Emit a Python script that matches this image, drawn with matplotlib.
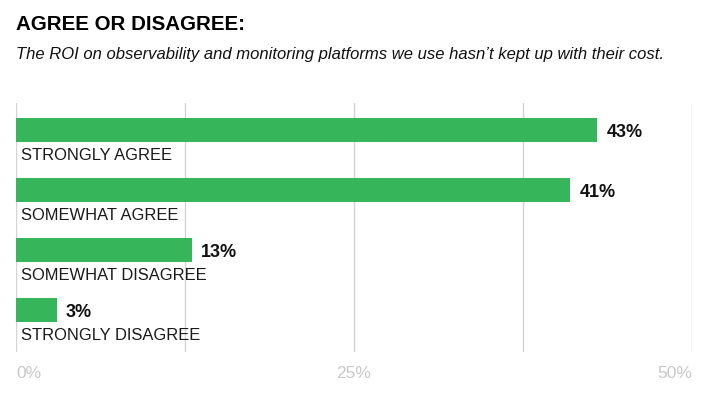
import numpy as np
import matplotlib as mpl
mpl.use("Agg")
import matplotlib.pyplot as plt

plt.rcParams['font.family'] = ['Liberation Sans', 'DejaVu Sans']

title = "AGREE OR DISAGREE:"
subtitle = "The ROI on observability and monitoring platforms we use hasn\u2019t kept up with their cost."
categories = ["STRONGLY AGREE", "SOMEWHAT AGREE", "SOMEWHAT DISAGREE", "STRONGLY DISAGREE"]
values = [43, 41, 13, 3]
tick_values = [0, 25, 50]
tick_labels = ["0%", "25%", "50%"]

green = "#37b55a"
grid_gray = "#d4d4d4"

fig = plt.figure(figsize=(7.15, 4.08), dpi=100)
ax = fig.add_axes([16/715, 56/408, 676/715, 249/408])

ypos = np.arange(len(categories))
ax.barh(ypos, values, height=0.4, color=green, zorder=2)

for y, v, c in zip(ypos, values, categories):
    ax.text(v + 0.7, y + 0.04, "%d%%" % v, va='center', ha='left', fontsize=13,
            fontweight='bold', color='#111111')
    ax.text(0.35, y + 0.43, c, va='center', ha='left', fontsize=11.9, color='#1a1a1a')

ax.set_xlim(0, 50)
ax.set_ylim(3.7, -0.45)
ax.set_xticks(np.arange(0, 50.1, 12.5))
ax.set_yticks([])
ax.tick_params(axis='x', length=0, labelbottom=False)
ax.grid(axis='x', color=grid_gray, linewidth=1, zorder=0)
for s in ax.spines.values():
    s.set_visible(False)

aligns = ['left', 'center', 'right']
for tv, tl, al in zip(tick_values, tick_labels, aligns):
    ax.text(tv, 4.06, tl, ha=al, va='center', fontsize=12.5, color='#c8c8c8', clip_on=False)

fig.text(16/715, 1 - 25/408, title, fontsize=14.8, fontweight='bold', va='center', ha='left', color='#000000')
fig.text(16/715, 1 - 55/408, subtitle, fontsize=12, style='italic', va='center', ha='left', color='#111111')

fig.savefig("out.png", dpi=100)
